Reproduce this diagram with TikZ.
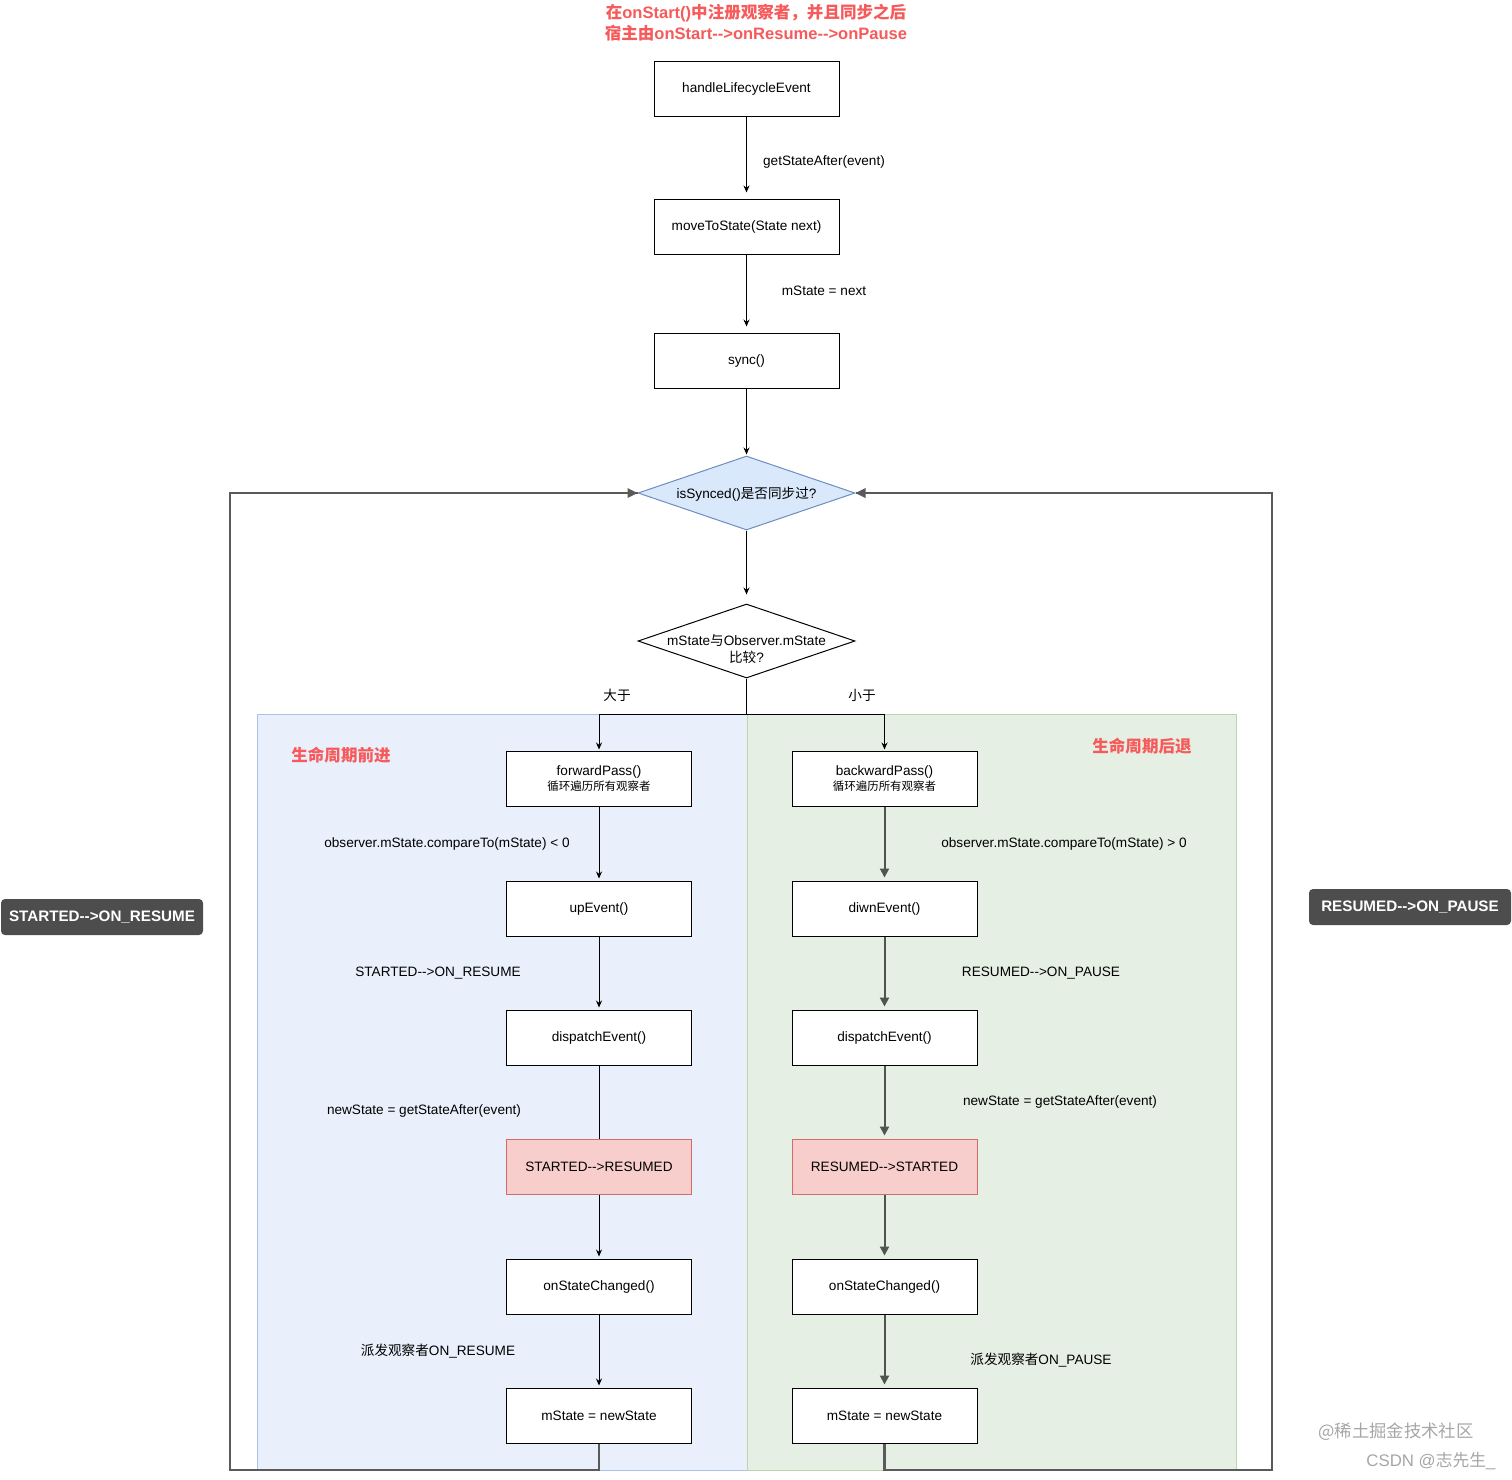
\documentclass[tikz,border=0pt]{standalone}
\usepackage{fontspec}
\setmainfont{Liberation Sans}[Ligatures=TeXOff]
\newfontfamily\cjk{Noto Sans CJK SC}
\usepackage{tikz}
\usetikzlibrary{arrows.meta,shapes.geometric,calc,positioning}
\newlength{\px}
\setlength{\px}{0.75pt}
\definecolor{titlered}{HTML}{F65A5A}
\definecolor{panelblue}{HTML}{E9F0FC}
\definecolor{panelblueline}{HTML}{A9C2E6}
\definecolor{panelgreen}{HTML}{E6EFE3}
\definecolor{panelgreenline}{HTML}{BBD6AE}
\definecolor{diamondblue}{HTML}{DAE8FC}
\definecolor{diamondline}{HTML}{6C8EBF}
\definecolor{boxpink}{HTML}{F8CECC}
\definecolor{boxpinkline}{HTML}{D46A6A}
\definecolor{flowgray}{HTML}{4F544F}
\definecolor{loopgray}{HTML}{5A5A5A}
\definecolor{taggray}{HTML}{4D4D4D}
\definecolor{markgray}{HTML}{A6A6A6}

\begin{document}
\begin{tikzpicture}
    [   > = {Stealth[length=5.25pt,width=4.5pt]},
        box/.style = {draw, fill=white, line width=1\px, minimum width=185\px,
                      minimum height=55\px, inner sep=2\px, align=center,
                      font=\fontsize{10.2pt}{12pt}\selectfont},
        pinkbox/.style = {box, fill=boxpink, draw=boxpinkline},
        decision/.style = {diamond, draw, line width=1\px, minimum width=217\px,
                           minimum height=74\px, inner sep=0pt},
        lbl/.style = {inner sep=1\px, align=center, font=\fontsize{10.2pt}{12pt}\selectfont},
        redlbl/.style = {inner sep=1\px, text=titlered, font=\cjk\bfseries\fontsize{12.4pt}{14pt}\selectfont},
        tag/.style = {fill=taggray, text=white, rounded corners=4\px, minimum width=202\px,
                      minimum height=36\px, inner sep=0pt,
                      font=\bfseries\fontsize{11.4pt}{13pt}\selectfont},
        flow/.style = {->, line width=1\px, shorten >=6\px},
        gflow/.style = {-{Triangle[length=6.75pt,width=6.75pt]}, line width=2\px,
                        draw=flowgray, shorten >=3\px},
        loopline/.style = {line width=2.5\px, draw=loopgray},
    ]
    \useasboundingbox (0\px,0\px) rectangle (1512\px,-1479\px);
    % Title
    \node[inner sep=0pt, align=center, text=titlered,
          font=\bfseries\fontsize{12.4pt}{15.75pt}\selectfont] (title) at (756\px,-23\px)
        {{\cjk 在}onStart(){\cjk 中注册观察者，并且同步之后}\\
         {\cjk 宿主由}onStart-->onResume-->onPause};
    % Panels
    \draw[fill=panelblue, draw=panelblueline, line width=1\px]
        (257\px,-714\px) rectangle (747\px,-1470\px);
    \draw[fill=panelgreen, draw=panelgreenline, line width=1\px]
        (747\px,-714\px) rectangle (1236\px,-1470\px);
    \node[redlbl] (fwdlbl) at (341\px,-755\px) {生命周期前进};
    \node[redlbl] (bwdlbl) at (1142\px,-746\px) {生命周期后退};
    % Main chain
    \node[box] (handle) at (746.5\px,-88.5\px) {handleLifecycleEvent};
    \node[box] (move) at (746.5\px,-226.5\px) {moveToState(State next)};
    \node[box] (sync) at (746.5\px,-360.5\px) {sync()};
    \node[decision, fill=diamondblue, draw=diamondline,
          label={[lbl, yshift=-1\px]center:isSynced(){\cjk 是否同步过}?}] (synced) at (746.5\px,-493\px) {};
    \node[decision, fill=white,
          label={[lbl, yshift=-8\px, font=\fontsize{10.2pt}{12.5pt}\selectfont]center:mState{\cjk 与}Observer.mState\\{\cjk 比较}?}]
          (cmp) at (746.5\px,-641\px) {};
    \draw[flow] (handle) -- (move);
    \node[lbl] (getlbl) at (824\px,-162\px) {getStateAfter(event)};
    \draw[flow] (move) -- (sync);
    \node[lbl] (nextlbl) at (824\px,-291\px) {mState = next};
    \draw[flow, shorten >=1\px] (sync) -- (synced);
    \draw[flow, shorten >=9\px] (synced) -- (cmp);
    % Left column
    \node[box] (fwd) at (599\px,-778.5\px) {forwardPass()\\[-1\px]{\cjk\fontsize{8.6pt}{10pt}\selectfont 循环遍历所有观察者}};
    \node[box] (up) at (599\px,-908.5\px) {upEvent()};
    \node[box] (displ) at (599\px,-1037.5\px) {dispatchEvent()};
    \node[pinkbox] (resumed) at (599\px,-1166.5\px) {STARTED-->RESUMED};
    \node[box] (changedl) at (599\px,-1286.5\px) {onStateChanged()};
    \node[box] (newl) at (599\px,-1415.5\px) {mState = newState};
    % Right column
    \node[box] (bwd) at (884.5\px,-778.5\px) {backwardPass()\\[-1\px]{\cjk\fontsize{8.6pt}{10pt}\selectfont 循环遍历所有观察者}};
    \node[box] (down) at (884.5\px,-908.5\px) {diwnEvent()};
    \node[box] (dispr) at (884.5\px,-1037.5\px) {dispatchEvent()};
    \node[pinkbox] (started) at (884.5\px,-1166.5\px) {RESUMED-->STARTED};
    \node[box] (changedr) at (884.5\px,-1286.5\px) {onStateChanged()};
    \node[box] (newr) at (884.5\px,-1415.5\px) {mState = newState};
    % Split
    \coordinate (split) at (746.5\px,-714\px);
    \draw[line width=1\px] (cmp.south) -- (split);
    \draw[flow, shorten >=1\px] (split) -| (fwd.north);
    \draw[flow, shorten >=1\px] (split) -| (bwd.north);
    \node[lbl, font=\cjk\fontsize{10.2pt}{12pt}\selectfont] (gtlbl) at (617\px,-695\px) {大于};
    \node[lbl, font=\cjk\fontsize{10.2pt}{12pt}\selectfont] (ltlbl) at (862\px,-695\px) {小于};
    % Left flow
    \draw[flow, shorten >=2\px] (fwd) -- (up);
    \node[lbl] (ltzero) at (447\px,-844\px) {observer.mState.compareTo(mState) < 0};
    \draw[flow, shorten >=2\px] (up) -- (displ);
    \node[lbl] (onresume) at (438\px,-973\px) {STARTED-->ON\_RESUME};
    \draw[line width=1\px] (displ) -- (resumed);
    \node[lbl] (newlbll) at (424\px,-1111\px) {newState = getStateAfter(event)};
    \draw[flow, shorten >=2\px] (resumed) -- (changedl);
    \draw[flow, shorten >=2\px] (changedl) -- (newl);
    \node[lbl] (sendl) at (438\px,-1351\px) {{\cjk 派发观察者}ON\_RESUME};
    % Right flow
    \draw[gflow] (bwd) -- (down);
    \node[lbl] (gtzero) at (1064\px,-844\px) {observer.mState.compareTo(mState) > 0};
    \draw[gflow] (down) -- (dispr);
    \node[lbl] (onpause) at (1041\px,-973\px) {RESUMED-->ON\_PAUSE};
    \draw[gflow] (dispr) -- (started);
    \node[lbl] (newlblr) at (1060\px,-1102\px) {newState = getStateAfter(event)};
    \draw[gflow] (started) -- (changedr);
    \draw[gflow] (changedr) -- (newr);
    \node[lbl] (sendr) at (1041\px,-1360\px) {{\cjk 派发观察者}ON\_PAUSE};
    % Loops back to isSynced()
    \coordinate (loopl) at (230\px,-1470\px);
    \coordinate (loopr) at (1272\px,-1470\px);
    \draw[loopline] (newl.south) |- (loopl) |- (synced.west);
    \draw[loopline] (newr.south) |- (loopr) |- (synced.east);
    \fill[loopgray] (synced.west) -- ++(-10\px,5\px) -- ++(0,-10\px) -- cycle;
    \fill[loopgray] (synced.east) -- ++(10\px,5\px) -- ++(0,-10\px) -- cycle;
    % Tags
    \node[tag] (tagl) at (102\px,-917\px) {STARTED-->ON\_RESUME};
    \node[tag] (tagr) at (1410\px,-907\px) {RESUMED-->ON\_PAUSE};
    % Watermark
    \node[inner sep=0pt, text=markgray, font=\cjk\fontsize{13pt}{15pt}\selectfont] (mark1) at (1396\px,-1432\px) {@稀土掘金技术社区};
    \node[inner sep=0pt, text=markgray, font=\fontsize{12.6pt}{15pt}\selectfont] (mark2) at (1431\px,-1461\px) {CSDN @{\cjk 志先生}\_};
\end{tikzpicture}
\end{document}
